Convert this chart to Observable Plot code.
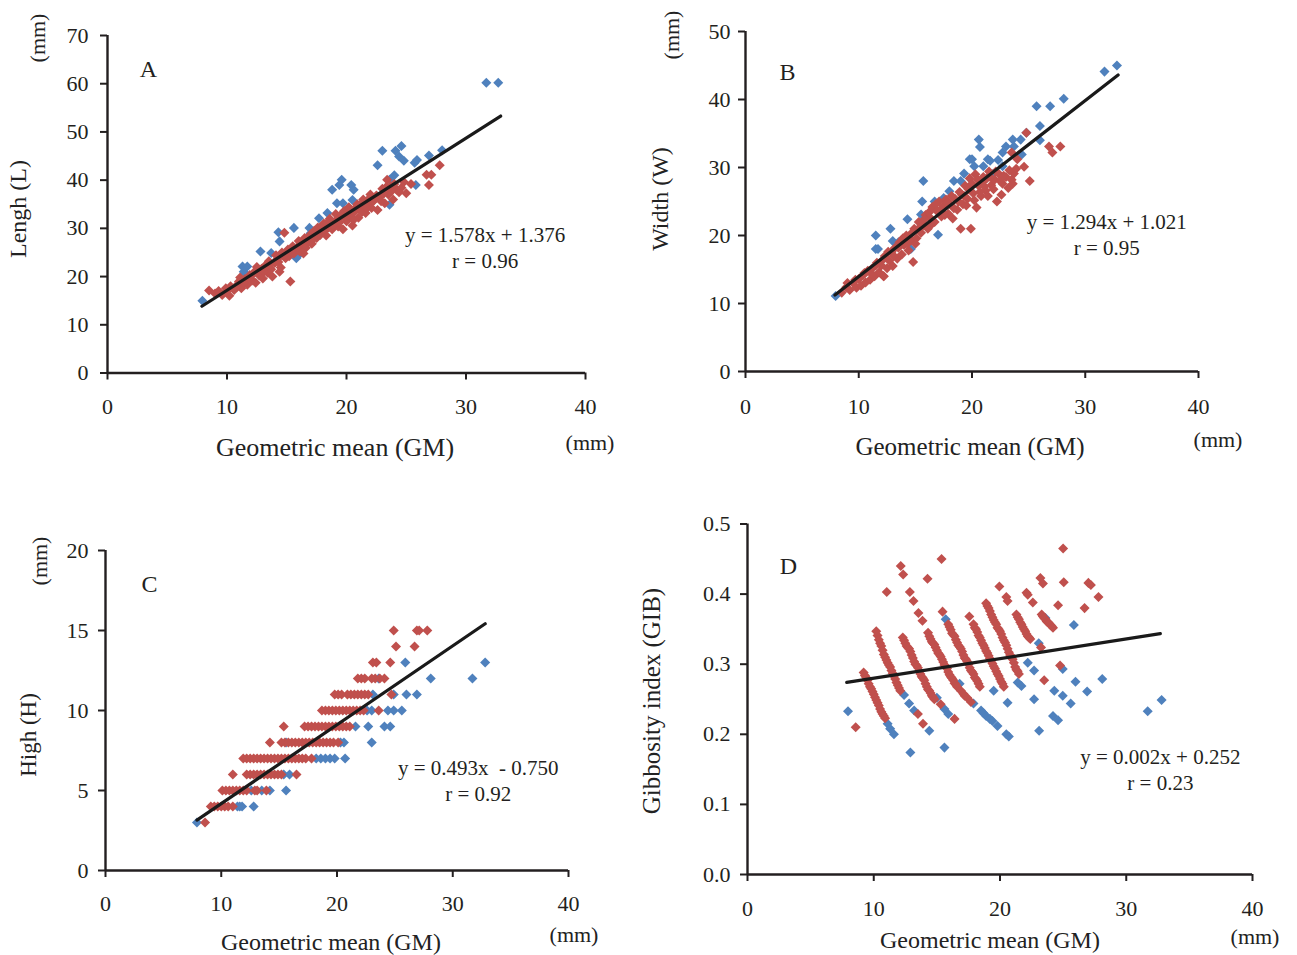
<!DOCTYPE html>
<html>
<head>
<meta charset="utf-8">
<script src="https://cdn.jsdelivr.net/npm/d3@7"></script>
<script src="https://cdn.jsdelivr.net/npm/@observablehq/plot@0.6"></script>
<style>
  body { margin: 0; background: #fff; }
  #fig { position: relative; width: 1297px; height: 955px; font-family: "Liberation Serif", "Times New Roman", serif; color: #222; }
  #fig svg { position: absolute; left: 0; top: 0; }
  .lbl { position: absolute; white-space: pre; line-height: 1; transform: translate(-50%, -50%); }
  .lbl.rot { transform: translate(-50%, -50%) rotate(-90deg); }
</style>
</head>
<body>
<div id="fig"></div>
<script>
// ---- Panel A: length vs geometric mean ----
const aBlue = [[7.94,15.0],[31.7,60.2],[32.7,60.2],[23.0,46.1],[24.1,46.1],[24.6,47.1],[24.4,44.9],[24.8,44.0],[22.6,43.1],[25.7,43.6],[25.9,44.2],[26.9,45.1],[28.0,46.2],[25.8,39.0],[23.6,40.1],[19.6,40.1],[19.4,39.0],[18.8,38.0],[20.4,39.0],[20.6,38.0],[20.5,35.9],[19.2,35.2],[19.7,35.2],[23.6,34.9],[22.6,36.6],[18.4,33.2],[17.7,32.1],[16.9,30.1],[15.6,30.1],[14.3,29.2],[14.4,27.3],[15.8,23.8],[16.0,24.5],[12.8,25.2],[13.7,24.9],[11.3,22.1],[11.7,22.1],[11.4,21.0],[21.5,34.0],[17.0,29.0],[24.0,41.0]];
const aRed = [[8.5,17.1],[9.0,16.5],[9.3,17.0],[9.6,16.2],[9.9,17.6],[10.2,16.0],[10.3,18.0],[10.6,17.2],[10.9,18.4],[11.0,19.0],[11.2,17.6],[11.5,19.5],[11.7,18.3],[11.9,20.3],[12.1,19.2],[12.3,21.0],[12.4,18.7],[12.7,20.2],[12.9,21.6],[13.0,19.6],[13.2,22.3],[13.4,20.8],[13.5,23.2],[13.7,21.5],[13.8,20.0],[14.0,22.8],[14.1,24.4],[14.3,23.0],[14.5,21.9],[14.6,25.0],[14.8,29.1],[14.9,23.8],[15.1,25.6],[15.2,24.2],[15.3,19.0],[15.5,26.3],[15.6,24.8],[15.8,25.6],[16.0,27.4],[16.1,25.2],[16.3,26.5],[16.5,28.0],[16.6,26.0],[16.8,27.3],[17.0,28.8],[17.1,26.8],[17.3,29.5],[17.5,28.0],[17.6,30.2],[17.8,28.6],[18.0,29.6],[18.1,31.0],[18.3,28.5],[18.5,30.2],[18.6,32.0],[18.8,29.8],[19.0,31.3],[19.1,33.0],[19.3,30.4],[19.5,32.2],[19.7,29.8],[19.8,33.6],[20.0,31.5],[20.2,34.4],[20.3,32.6],[20.5,30.6],[20.7,33.5],[20.9,35.0],[21.0,32.2],[21.2,34.0],[21.4,36.0],[21.6,33.2],[21.8,35.2],[22.0,37.0],[22.1,34.2],[22.3,35.8],[22.6,33.8],[22.8,36.5],[23.0,38.2],[23.2,35.2],[23.4,40.1],[23.5,37.0],[23.7,38.8],[23.9,36.0],[24.2,38.0],[24.6,38.4],[24.8,39.6],[25.0,37.3],[25.4,39.2],[26.7,41.1],[27.1,41.1],[26.9,39.0],[27.8,43.1],
  [10.0,17.0],[10.8,17.8],[11.4,18.6],[12.0,20.0],[12.6,21.3],[13.1,21.0],[13.6,22.4],[14.2,23.6],[14.7,24.3],[15.0,25.0],[15.4,25.0],[15.9,26.2],[16.2,27.0],[16.7,27.6],[16.9,28.2],[17.2,27.8],[17.4,29.0],[17.9,30.3],[18.2,29.6],[18.4,31.2],[18.7,31.0],[19.2,31.8],[19.4,31.2],[19.6,33.0],[19.9,32.4],[20.1,33.2],[20.4,33.8],[20.6,31.8],[20.8,34.4],[21.1,34.8],[21.3,33.4],[21.5,35.2],[21.7,34.2],[21.9,36.2],[22.2,35.6],[22.5,36.8],[22.9,35.6],[23.1,37.2],[23.3,38.5],[23.8,37.8],[24.0,39.2],[24.4,37.5],[14.4,21.0],[16.4,24.8],[18.9,30.6],[12.5,22.0],[11.1,19.8]];

// ---- Panel B: width vs geometric mean ----
const bBlue = [[7.96,11.1],[32.8,45.0],[31.7,44.1],[28.1,40.1],[26.9,39.0],[25.7,39.0],[26.0,36.1],[24.8,35.1],[26.0,34.0],[24.3,34.1],[23.6,34.1],[23.7,33.1],[23.0,33.1],[22.7,32.2],[24.4,31.9],[22.3,31.1],[20.6,34.1],[20.7,33.0],[19.8,31.2],[20.0,31.2],[21.4,31.2],[21.6,31.0],[20.2,30.2],[21.0,30.2],[22.7,30.2],[19.3,29.1],[18.4,28.0],[15.7,28.0],[15.6,25.0],[17.0,20.1],[11.5,20.0],[12.8,21.0],[11.5,18.0],[11.7,18.0],[13.0,19.2],[14.6,18.0],[14.3,22.4],[15.5,23.1],[16.7,25.0],[17.5,25.5],[18.0,26.5],[19.0,28.0],[13.5,19.0],[21.8,29.0]];
const bRed = [[8.5,11.6],[8.9,12.4],[9.2,12.0],[9.5,13.0],[9.8,12.3],[10.0,13.6],[10.2,12.6],[10.4,14.2],[10.6,13.1],[10.8,14.8],[11.0,13.5],[11.2,15.2],[11.4,14.0],[11.6,16.0],[11.8,14.6],[12.0,15.6],[12.2,14.0],[12.3,17.0],[12.5,15.2],[12.7,16.3],[12.9,17.6],[13.0,15.5],[13.2,18.2],[13.4,16.6],[13.6,19.0],[13.8,17.2],[14.0,18.6],[14.2,20.0],[14.4,17.8],[14.6,19.3],[14.8,16.1],[14.9,21.0],[15.1,19.6],[15.3,22.0],[15.5,20.4],[15.7,21.5],[15.9,23.0],[16.1,21.0],[16.3,22.6],[16.5,24.2],[16.7,22.0],[16.9,23.6],[17.1,25.0],[17.3,22.8],[17.5,24.3],[17.7,25.3],[17.9,23.2],[18.1,24.6],[18.3,22.5],[18.5,25.4],[18.7,23.8],[18.9,26.4],[19.0,21.0],[19.2,24.6],[19.4,27.3],[19.6,25.4],[19.8,28.4],[19.9,21.0],[20.1,26.2],[20.3,29.0],[20.4,24.1],[20.6,27.3],[20.8,25.8],[21.0,28.6],[21.2,26.6],[21.5,29.4],[21.7,27.4],[22.0,28.2],[22.2,25.0],[22.4,29.0],[22.7,27.6],[23.0,28.6],[23.2,27.0],[23.5,28.2],[23.7,29.1],[24.0,31.2],[23.5,32.2],[24.6,30.1],[24.8,35.1],[25.1,28.0],[26.8,33.1],[27.1,32.2],[27.8,33.1],[12.2,14.0],
  [9.0,13.0],[9.7,13.5],[10.5,14.5],[11.1,14.4],[11.5,15.6],[12.1,16.4],[12.6,17.6],[13.1,17.0],[13.5,18.2],[13.9,19.6],[14.3,18.8],[14.7,20.4],[15.0,18.8],[15.4,21.2],[15.8,22.4],[16.2,23.4],[16.4,21.6],[16.8,24.6],[17.2,23.8],[17.6,23.0],[17.8,24.8],[18.2,25.8],[18.4,24.0],[18.8,25.0],[19.1,26.0],[19.3,25.8],[19.5,24.4],[19.7,26.8],[20.0,27.6],[20.2,25.2],[20.5,28.2],[20.7,26.4],[20.9,27.8],[21.1,27.2],[21.3,28.4],[21.6,28.6],[21.9,26.8],[22.1,29.4],[22.5,28.0],[22.8,28.8],[23.3,29.6],[23.6,27.6],[23.9,29.8],[22.6,26.0],[21.4,25.8]];

// ---- Panel C: height vs geometric mean (heights measured to 1 mm) ----
const cBlue = [[7.9,3],[11.4,4],[11.6,4],[11.8,4],[12.8,4],[12.6,5],[13.5,5],[14.2,5],[15.6,5],[15.4,6],[15.9,6],[18.2,7],[18.6,7],[19.0,7],[19.4,7],[19.8,7],[20.7,7],[15.6,8],[20.3,8],[20.6,8],[23.0,8],[21.6,9],[22.7,9],[24.1,9],[24.6,9],[22.6,10],[23.0,10],[24.4,10],[24.9,10],[25.6,10],[23.1,11],[24.9,11],[26.0,11],[26.9,11],[23.6,12],[28.1,12],[31.7,12],[25.9,13],[32.8,13]];
const cRed = [[8.6,3],
  [9.1,4],[9.4,4],[9.7,4],[10.0,4],[10.3,4],[10.6,4],[11.0,4],
  [10.1,5],[10.4,5],[10.7,5],[11.0,5],[11.3,5],[11.6,5],[11.9,5],[12.2,5],[12.9,5],[13.1,5],[13.9,5],
  [11.0,6],[12.2,6],[12.5,6],[12.8,6],[13.1,6],[13.4,6],[13.7,6],[14.0,6],[14.3,6],[14.6,6],[14.9,6],[15.2,6],[16.5,6],
  [11.9,7],[12.2,7],[12.5,7],[12.8,7],[13.1,7],[13.4,7],[13.7,7],[14.0,7],[14.3,7],[14.6,7],[14.9,7],[15.2,7],[15.5,7],[15.8,7],[16.1,7],[16.4,7],[16.7,7],[17.0,7],[17.3,7],[17.8,7],
  [14.2,8],[15.2,8],[15.5,8],[15.8,8],[16.1,8],[16.4,8],[16.7,8],[17.0,8],[17.3,8],[17.6,8],[17.9,8],[18.2,8],[18.5,8],[18.8,8],[19.1,8],[19.4,8],[19.7,8],[20.1,8],
  [15.4,9],[17.2,9],[17.5,9],[17.8,9],[18.1,9],[18.4,9],[18.7,9],[19.0,9],[19.3,9],[19.6,9],[19.9,9],[20.2,9],[20.5,9],[20.8,9],[21.1,9],
  [18.7,10],[19.0,10],[19.3,10],[19.6,10],[19.9,10],[20.2,10],[20.5,10],[20.8,10],[21.1,10],[21.4,10],[21.7,10],[22.0,10],[22.3,10],[23.6,10],
  [19.8,11],[20.1,11],[20.4,11],[20.9,11],[21.2,11],[21.5,11],[21.8,11],[22.1,11],[22.4,11],[22.7,11],[24.7,11],
  [21.8,12],[22.1,12],[22.4,12],[23.0,12],[23.3,12],[23.7,12],[24.1,12],
  [23.1,13],[23.4,13],[24.6,13],
  [25.1,14],[26.7,14],
  [24.9,15],[26.9,15],[27.1,15],[27.8,15]];

// ---- Panel D: gibbosity index vs geometric mean ----
const dBlue = [[7.96,0.233],[12.9,0.174],[15.6,0.181],[11.1,0.215],[11.3,0.208],[11.6,0.200],[12.4,0.256],[12.8,0.244],[13.2,0.234],[14.4,0.205],[15.0,0.252],[15.6,0.236],[15.9,0.229],[15.7,0.364],[16.8,0.272],[17.9,0.244],[18.5,0.234],[18.7,0.230],[18.9,0.226],[19.2,0.222],[19.4,0.219],[19.8,0.212],[20.5,0.200],[20.7,0.197],[19.5,0.262],[20.6,0.245],[21.4,0.274],[21.7,0.269],[22.2,0.302],[22.7,0.291],[23.07,0.330],[23.1,0.205],[22.7,0.250],[24.3,0.262],[24.97,0.255],[24.2,0.226],[24.6,0.220],[25.6,0.244],[25.98,0.275],[26.9,0.261],[28.1,0.279],[25.85,0.356],[31.7,0.233],[32.8,0.249],[24.97,0.293],[23.6,0.366]];
const dRed = [
  [9.2,0.288],[9.3,0.284],[9.4,0.281],[9.5,0.277],[9.6,0.272],[9.7,0.268],[9.8,0.265],[9.9,0.261],[10.0,0.257],[10.1,0.253],[10.2,0.249],[10.3,0.245],[10.4,0.241],[10.5,0.236],[10.6,0.232],[10.7,0.229],[10.8,0.226],[10.9,0.223],
  [10.2,0.347],[10.3,0.341],[10.4,0.335],[10.5,0.330],[10.6,0.326],[10.7,0.320],[10.8,0.314],[10.9,0.310],[11.0,0.306],[11.1,0.302],[11.2,0.299],[11.3,0.296],[11.4,0.291],[11.5,0.287],[11.6,0.283],[11.7,0.279],[11.8,0.274],[11.9,0.270],[12.0,0.266],[12.1,0.262],[13.5,0.229],[13.9,0.215],
  [12.3,0.338],[12.4,0.334],[12.5,0.330],[12.6,0.326],[12.7,0.324],[12.8,0.322],[12.9,0.318],[13.0,0.313],[13.1,0.309],[13.2,0.304],[13.3,0.300],[13.4,0.298],[13.5,0.295],[13.6,0.290],[13.7,0.286],[13.8,0.282],[13.9,0.280],[14.0,0.277],[14.1,0.272],[14.2,0.268],[14.3,0.264],[14.4,0.262],[14.5,0.259],[14.6,0.255],[14.7,0.253],[14.8,0.250],[15.3,0.243],[16.4,0.222],
  [14.3,0.345],[14.4,0.340],[14.5,0.336],[14.6,0.332],[14.7,0.330],[14.8,0.328],[14.9,0.324],[15.0,0.320],[15.1,0.316],[15.2,0.314],[15.3,0.311],[15.4,0.307],[15.5,0.303],[15.6,0.299],[15.7,0.297],[15.8,0.294],[15.9,0.289],[16.0,0.285],[16.1,0.282],[16.2,0.280],[16.3,0.277],[16.4,0.273],[16.5,0.271],[16.6,0.268],[16.9,0.262],[17.1,0.258],[17.2,0.255],[17.4,0.252],[17.7,0.246],
  [15.9,0.357],[16.0,0.353],[16.1,0.349],[16.2,0.344],[16.3,0.342],[16.4,0.340],[16.5,0.335],[16.6,0.331],[16.7,0.327],[16.8,0.325],[16.9,0.322],[17.0,0.318],[17.1,0.313],[17.2,0.309],[17.3,0.307],[17.4,0.304],[17.5,0.300],[17.6,0.295],[17.7,0.291],[17.8,0.289],[17.9,0.286],[18.0,0.281],[18.1,0.279],[18.2,0.276],[18.3,0.272],[18.4,0.268],
  [17.9,0.357],[18.0,0.352],[18.1,0.350],[18.2,0.346],[18.3,0.341],[18.4,0.338],[18.5,0.334],[18.6,0.330],[18.7,0.327],[18.8,0.323],[18.9,0.319],[19.0,0.316],[19.1,0.312],[19.2,0.308],[19.3,0.305],[19.4,0.301],[19.5,0.297],[19.6,0.294],[19.7,0.290],[19.8,0.286],[19.9,0.283],[20.0,0.279],[20.1,0.275],[20.2,0.272],[20.3,0.268],
  [18.9,0.387],[19.0,0.383],[19.1,0.380],[19.2,0.376],[19.3,0.371],[19.4,0.367],[19.5,0.363],[19.6,0.360],[19.7,0.357],[19.8,0.352],[19.9,0.350],[20.0,0.347],[20.1,0.343],[20.2,0.338],[20.3,0.334],[20.4,0.331],[20.5,0.327],[20.6,0.322],[20.7,0.317],[20.8,0.313],[20.9,0.311],[21.0,0.307],[21.1,0.302],[21.2,0.296],[21.3,0.292],[21.4,0.290],[21.5,0.286],
  [21.3,0.371],[21.4,0.367],[21.5,0.364],[21.6,0.360],[21.7,0.357],[21.8,0.353],[21.9,0.350],[22.0,0.347],[22.1,0.343],[22.2,0.340],[22.3,0.338],[22.4,0.336],
  [23.3,0.371],[23.4,0.368],[23.5,0.366],[23.6,0.364],[23.7,0.361],[23.8,0.360],[23.9,0.358],[24.0,0.356],[24.1,0.354],[24.2,0.352],
  [12.14,0.440],[12.33,0.428],[15.37,0.450],[14.26,0.422],[11.03,0.403],[12.86,0.403],[13.15,0.390],[13.54,0.373],[13.86,0.362],[15.45,0.375],[17.57,0.368],[25.0,0.465],[19.95,0.411],[20.5,0.396],[20.6,0.390],[22.1,0.402],[22.2,0.399],[22.6,0.388],[23.2,0.423],[23.4,0.415],[25.05,0.417],[24.6,0.384],[27.0,0.416],[27.2,0.413],[27.8,0.396],[26.7,0.380],[8.57,0.210],[24.76,0.298],[23.5,0.277],[23.25,0.324]];

// regression fits, one per panel (A, B, C, D)
const slopes = [1.578, 1.294, 0.493, 0.0028];
const intercepts = [1.376, 1.021, -0.750, 0.252];
const fitStart = [7.9, 7.9, 7.9, 7.86];
const fitEnd = [32.9, 32.9, 32.8, 32.7];
const equations = [
  ["y = 1.578x + 1.376", "r = 0.96"],
  ["y = 1.294x + 1.021", "r = 0.95"],
  ["y = 0.493x\u00a0 - 0.750", "r = 0.92"],
  ["y = 0.002x + 0.252", "r = 0.23"]
];
const panelLetters = ["A", "B", "C", "D"];

// axes
const xTicks = [0, 10, 20, 30, 40];
const yTicksA = [0, 10, 20, 30, 40, 50, 60, 70];
const yTicksB = [0, 10, 20, 30, 40, 50];
const yTicksC = [0, 5, 10, 15, 20];
const yTicksD = [0, 0.1, 0.2, 0.3, 0.4, 0.5];

const BLUE = "#4F81BD";
const RED = "#C0504D";
const INK = "#231f20";
const W = 1297, H = 955;

// a square turned 45°, as spreadsheet scatter markers are drawn
const diamond = {
  draw(ctx, size) {
    const h = Math.sqrt(size / 2);
    ctx.moveTo(0, -h); ctx.lineTo(h, 0); ctx.lineTo(0, h); ctx.lineTo(-h, 0); ctx.closePath();
  }
};

const layout = [
  {frame: [107, 35, 585, 372.5], yDomain: [0, 70], yTicks: yTicksA, fmt: d => d, yPad: 12, xPad: 18,
   letter: [3.43, 62.9], eqX: 31.6, eqY: [28.5, 23.1], blue: aBlue, red: aRed},
  {frame: [745, 31, 1198, 371], yDomain: [0, 50], yTicks: yTicksB, fmt: d => d, yPad: 8, xPad: 20,
   letter: [3.7, 44.0], eqX: 31.9, eqY: [21.9, 18.1], blue: bBlue, red: bRed},
  {frame: [105, 550, 568, 870], yDomain: [0, 20], yTicks: yTicksC, fmt: d => d, yPad: 10, xPad: 18,
   letter: [3.8, 17.9], eqX: 32.2, eqY: [6.4, 4.76], blue: cBlue, red: cRed},
  {frame: [747, 523.5, 1252, 874], yDomain: [0, 0.5], yTicks: yTicksD, fmt: d3.format(".1f"), yPad: 10, xPad: 19,
   letter: [3.25, 0.439], eqX: 32.7, eqY: [0.167, 0.130], blue: dBlue, red: dRed}
];

const fig = document.getElementById("fig");

layout.forEach((p, k) => {
  const [x0, y0, x1, y1] = p.frame;
  const fit = [fitStart[k], fitEnd[k]].map(x => [x, slopes[k] * x + intercepts[k]]);
  const svg = Plot.plot({
    width: W, height: H,
    marginLeft: x0, marginTop: y0, marginRight: W - x1, marginBottom: H - y1,
    x: {domain: [0, 40]},
    y: {domain: p.yDomain},
    style: {fontFamily: '"Liberation Serif", "Times New Roman", serif', fontSize: "22px", color: INK, background: "transparent", overflow: "visible"},
    marks: [
      Plot.axisY({ticks: p.yTicks, tickFormat: p.fmt, tickSize: 7, tickPadding: p.yPad, strokeWidth: 2, label: null}),
      Plot.axisX({ticks: xTicks, tickFormat: d => d, tickSize: 7, tickPadding: p.xPad, strokeWidth: 2, label: null}),
      Plot.ruleX([0], {strokeWidth: 2.4}),
      Plot.ruleY([p.yDomain[0]], {strokeWidth: 2.4}),
      Plot.dot(p.blue, {x: d => d[0], y: d => d[1], symbol: diamond, r: 4, fill: BLUE}),
      Plot.dot(p.red, {x: d => d[0], y: d => d[1], symbol: diamond, r: 4, fill: RED}),
      Plot.line(fit, {x: d => d[0], y: d => d[1], stroke: "#1a1a1a", strokeWidth: 3.2}),
      Plot.text([panelLetters[k]], {x: () => p.letter[0], y: () => p.letter[1], fontSize: 24, fill: INK}),
      Plot.text(equations[k], {x: () => p.eqX, y: (d, i) => p.eqY[i], fontSize: 21, fill: INK})
    ]
  });
  fig.appendChild(svg);
});

// axis titles and units
const titles = [
  {t: "Lengh (L)", x: 18, y: 209, s: 24, rot: true},
  {t: "(mm)", x: 38, y: 38, s: 22, rot: true},
  {t: "Geometric mean (GM)", x: 335, y: 448, s: 26},
  {t: "(mm)", x: 590, y: 443, s: 22},
  {t: "Width (W)", x: 660, y: 199, s: 24, rot: true},
  {t: "(mm)", x: 672, y: 35, s: 22, rot: true},
  {t: "Geometric mean (GM)", x: 970, y: 446, s: 25},
  {t: "(mm)", x: 1218, y: 440, s: 22},
  {t: "High (H)", x: 28, y: 735, s: 23, rot: true},
  {t: "(mm)", x: 40, y: 561, s: 22, rot: true},
  {t: "Geometric mean (GM)", x: 331, y: 942, s: 24},
  {t: "(mm)", x: 574, y: 935, s: 22},
  {t: "Gibbosity index (GIB)", x: 651, y: 701, s: 25, rot: true},
  {t: "Geometric mean (GM)", x: 990, y: 940, s: 24},
  {t: "(mm)", x: 1255, y: 937, s: 22}
];
titles.forEach(d => {
  const el = document.createElement("div");
  el.className = "lbl" + (d.rot ? " rot" : "");
  el.textContent = d.t;
  el.style.left = d.x + "px";
  el.style.top = d.y + "px";
  el.style.fontSize = d.s + "px";
  fig.appendChild(el);
});
</script>
</body>
</html>
